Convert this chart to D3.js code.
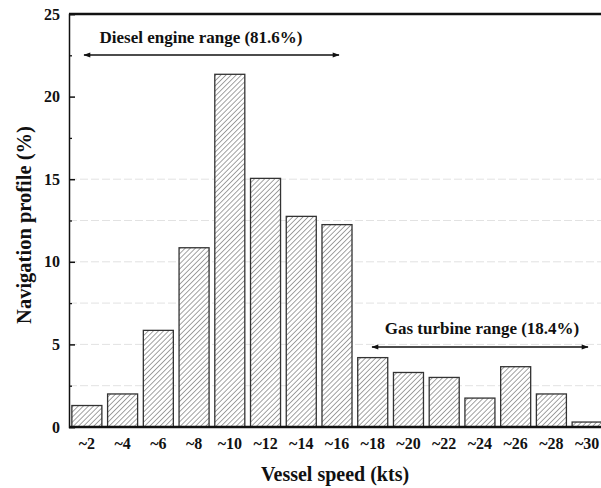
<!DOCTYPE html>
<html><head><meta charset="utf-8">
<script src="https://cdn.jsdelivr.net/npm/d3@7"></script>
<style>body{margin:0;background:#fff;} svg{display:block;}</style>
</head><body>
<svg id="c" width="601" height="488"></svg>
<script>
const categories = ["~2","~4","~6","~8","~10","~12","~14","~16","~18","~20","~22","~24","~26","~28","~30"];
const values = [1.3,2.0,5.85,10.85,21.35,15.05,12.75,12.25,4.2,3.3,3.0,1.75,3.65,2.0,0.3];
const yTicks = [0,5,10,15,20,25];
const yMinor = [2.5,7.5,12.5,17.5,22.5];
const gridVals = [2.5,5,7.5,10,12.5,15];
const dieselLabel = "Diesel engine range (81.6%)";
const gasLabel = "Gas turbine range (18.4%)";

const svg = d3.select("#c");
const L=69, R=605, T=14, B=427;
const font = "'Liberation Serif','Times New Roman',serif";

const defs = svg.append("defs");
const pat = defs.append("pattern").attr("id","hatch").attr("patternUnits","userSpaceOnUse")
  .attr("width",3.6).attr("height",3.6).attr("patternTransform","rotate(45)");
pat.append("rect").attr("width",3.6).attr("height",3.6).attr("fill","#fff");
pat.append("line").attr("x1",0).attr("y1",0).attr("x2",0).attr("y2",3.6).attr("stroke","#666").attr("stroke-width",1.2);

const x = d3.scaleBand().domain(categories).range([L,R]).paddingInner(0.16).paddingOuter(0.08);
const y = d3.scaleLinear().domain([0,25]).range([B,T]);

// grid
svg.append("g").selectAll("line").data(gridVals).join("line")
  .attr("x1",L).attr("x2",601).attr("y1",d=>y(d)).attr("y2",d=>y(d))
  .attr("stroke","#e2e2e2").attr("stroke-width",1).attr("stroke-dasharray","8,3");

// bars
svg.append("g").selectAll("rect").data(values).join("rect")
  .attr("x",(d,i)=>x(categories[i])).attr("width",x.bandwidth())
  .attr("y",d=>y(d)).attr("height",d=>B-y(d))
  .attr("fill","url(#hatch)").attr("stroke","#333").attr("stroke-width",1.3);

// axes
const yAxis = d3.axisLeft(y).tickValues(yTicks).tickSize(-6).tickPadding(9).tickFormat(d3.format("d"));
const gy = svg.append("g").attr("transform",`translate(${L},0)`).call(yAxis);
gy.select(".domain").attr("stroke","#111").attr("stroke-width",1.5);
gy.selectAll(".tick line").attr("stroke","#111").attr("stroke-width",1.5);
gy.selectAll("text").attr("font-family",font).attr("font-weight","bold").attr("font-size",16).attr("fill","#111");
const gym = svg.append("g").attr("transform",`translate(${L},0)`).call(d3.axisLeft(y).tickValues(yMinor).tickSize(-3).tickFormat(""));
gym.select(".domain").remove();
gym.selectAll(".tick line").attr("stroke","#111").attr("stroke-width",1.3);

const xAxis = d3.axisBottom(x).tickSize(0).tickPadding(11);
const gx = svg.append("g").attr("transform",`translate(0,${B})`).call(xAxis);
gx.select(".domain").remove();
gx.selectAll("text").attr("font-family",font).attr("font-weight","bold").attr("font-size",16).attr("fill","#111");
svg.append("line").attr("x1",L).attr("x2",601).attr("y1",B).attr("y2",B).attr("stroke","#111").attr("stroke-width",2.5);
svg.append("line").attr("x1",L).attr("x2",601).attr("y1",T).attr("y2",T).attr("stroke","#111").attr("stroke-width",2.5);

// axis titles
svg.append("text").attr("x",335).attr("y",481).attr("text-anchor","middle")
  .attr("font-family",font).attr("font-weight","bold").attr("font-size",20).attr("fill","#111").text("Vessel speed (kts)");
svg.append("text").attr("transform","translate(31,225) rotate(-90)").attr("text-anchor","middle")
  .attr("font-family",font).attr("font-weight","bold").attr("font-size",20.5).attr("fill","#111").text("Navigation profile (%)");

// arrows
const mk = defs.append("marker").attr("id","ah").attr("viewBox","0 0 10 10").attr("refX",9).attr("refY",5)
  .attr("markerWidth",8).attr("markerHeight",7).attr("orient","auto-start-reverse").attr("markerUnits","userSpaceOnUse");
mk.append("path").attr("d","M0,1.5 L10,5 L0,8.5 Z").attr("fill","#111");
function arrow(x1,x2,yy){
  svg.append("line").attr("x1",x1).attr("x2",x2).attr("y1",yy).attr("y2",yy)
    .attr("stroke","#111").attr("stroke-width",1.5)
    .attr("marker-start","url(#ah)").attr("marker-end","url(#ah)");
}
arrow(84,339,55);
arrow(372,588,347);
svg.append("text").attr("x",201).attr("y",43).attr("text-anchor","middle")
  .attr("font-family",font).attr("font-weight","bold").attr("font-size",17).attr("fill","#111").text(dieselLabel);
svg.append("text").attr("x",482).attr("y",334).attr("text-anchor","middle")
  .attr("font-family",font).attr("font-weight","bold").attr("font-size",17).attr("fill","#111").text(gasLabel);
</script>
</body></html>
